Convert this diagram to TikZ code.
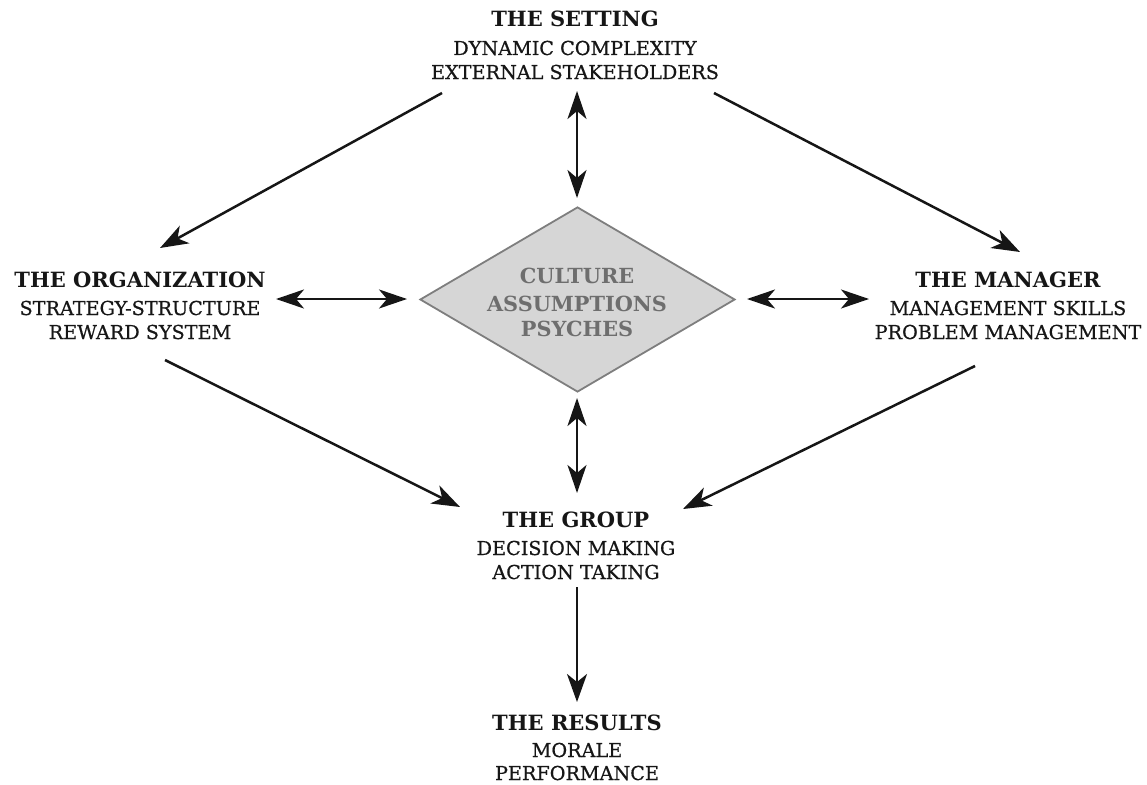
\documentclass[tikz,border=0pt]{standalone}
\usepackage{fontspec}
\setmainfont{DejaVu Serif}
\newfontfamily\subfnt{DejaVu Serif}[FakeBold=0.6]
\usetikzlibrary{arrows.meta,shapes.geometric}
\definecolor{ink}{HTML}{161616}
\definecolor{diafill}{HTML}{D6D6D6}
\definecolor{diaedge}{HTML}{7E7E7E}
\definecolor{diatext}{HTML}{6E6E6E}
\tikzset{
  ttl/.style={anchor=base, inner sep=0pt, text=ink, font=\fontsize{21}{21}\selectfont\bfseries},
  sub/.style={anchor=base, inner sep=0pt, text=ink, font=\fontsize{19.2}{19.2}\subfnt},
  dtx/.style={anchor=base, inner sep=0pt, text=diatext, font=\fontsize{20.8}{20.8}\selectfont\bfseries},
  conn/.style={line width=2.5pt, draw=ink, -{Stealth[length=28pt,width=20pt,inset=8pt]}},
  dconn/.style={line width=2.7pt, draw=ink, {Stealth[length=28pt,width=19pt,inset=8pt]}-{Stealth[length=28pt,width=19pt,inset=8pt]}},
}
\begin{document}
\begin{tikzpicture}[x=1pt,y=-1pt]
\useasboundingbox (0,0) rectangle (1147,784);
% diamond
\node[diamond, draw=diaedge, line width=1.8pt, fill=diafill, minimum width=315pt, minimum height=185pt, inner sep=0pt] (dia) at (577.5,299.5) {};
\node[dtx] (d1) at (577,283) {CULTURE};
\node[dtx] (d2) at (577,311) {ASSUMPTIONS};
\node[dtx] (d3) at (577,336) {PSYCHES};
% setting
\node[ttl] (set) at (575,27) {THE SETTING};
\node[sub] (set2) at (575,55) {DYNAMIC COMPLEXITY};
\node[sub] (set3) at (575,79) {EXTERNAL STAKEHOLDERS};
% organization
\node[ttl] (org) at (140,287) {THE ORGANIZATION};
\node[sub] (org2) at (140,315) {STRATEGY-STRUCTURE};
\node[sub] (org3) at (140,339) {REWARD SYSTEM};
% manager
\node[ttl] (man) at (1008,287) {THE MANAGER};
\node[sub] (man2) at (1008,315) {MANAGEMENT SKILLS};
\node[sub] (man3) at (1008,339) {PROBLEM MANAGEMENT};
% group
\node[ttl] (grp) at (576,527) {THE GROUP};
\node[sub] (grp2) at (576,555) {DECISION MAKING};
\node[sub] (grp3) at (576,579) {ACTION TAKING};
% results
\node[ttl] (res) at (577,730) {THE RESULTS};
\node[sub] (res2) at (577,757) {MORALE};
\node[sub] (res3) at (577,780) {PERFORMANCE};
% connector end points
\coordinate (sA) at (442,93);
\coordinate (oA) at (160,248);
\coordinate (sB) at (714,93);
\coordinate (mB) at (1020,252);
\coordinate (sC) at (577,91);
\coordinate (dC) at (577,198);
\coordinate (oD) at (276,299);
\coordinate (dD) at (407,299);
\coordinate (dE) at (747,299);
\coordinate (mE) at (869,299);
\coordinate (dF) at (577,398);
\coordinate (gF) at (577,493);
\coordinate (oG) at (165,360);
\coordinate (gG) at (460,507);
\coordinate (mH) at (975,366);
\coordinate (gH) at (683,509);
\coordinate (gI) at (577,587);
\coordinate (rI) at (577,702);
% connectors
\draw[conn] (sA) -- (oA);
\draw[conn] (sB) -- (mB);
\draw[dconn] (sC) -- (dC);
\draw[dconn] (oD) -- (dD);
\draw[dconn] (dE) -- (mE);
\draw[dconn] (dF) -- (gF);
\draw[conn] (oG) -- (gG);
\draw[conn] (mH) -- (gH);
\draw[conn] (gI) -- (rI);
\end{tikzpicture}
\end{document}
